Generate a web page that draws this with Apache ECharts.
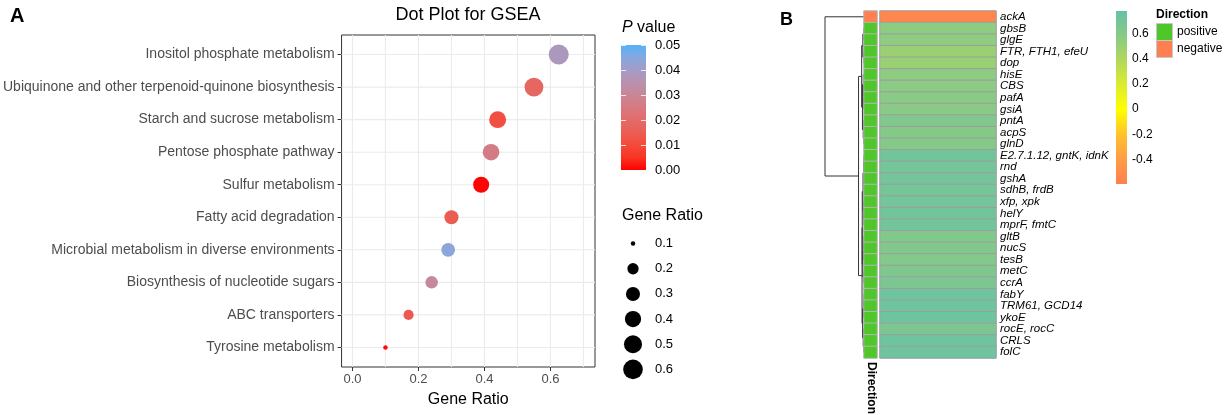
<!DOCTYPE html>
<html><head><meta charset="utf-8">
<script src="https://cdn.jsdelivr.net/npm/echarts@6/dist/echarts.min.js"></script>
<style>html,body{margin:0;padding:0;background:#fff}#c{width:1228px;height:415px}</style>
</head><body><div id="c"></div>
<script>
// ---------------- Panel A data ----------------
const pathways = [
  'Inositol phosphate metabolism',
  'Ubiquinone and other terpenoid-quinone biosynthesis',
  'Starch and sucrose metabolism',
  'Pentose phosphate pathway',
  'Sulfur metabolism',
  'Fatty acid degradation',
  'Microbial metabolism in diverse environments',
  'Biosynthesis of nucleotide sugars',
  'ABC transporters',
  'Tyrosine metabolism'
];
const geneRatio = [0.625, 0.55, 0.44, 0.42, 0.39, 0.30, 0.29, 0.24, 0.17, 0.10];
const pValue    = [0.038, 0.018, 0.011, 0.026, 0.0005, 0.015, 0.044, 0.031, 0.014, 0.001];
const xTicks = [0, 0.2, 0.4, 0.6];
const xGridLines = [0, 0.1, 0.2, 0.3, 0.4, 0.5, 0.6, 0.7];
const pTicks = [0, 0.01, 0.02, 0.03, 0.04, 0.05];
const sizeTicks = [0.1, 0.2, 0.3, 0.4, 0.5, 0.6];

// ---------------- Panel B data ----------------
const genes = ['ackA','gbsB','glgE','FTR, FTH1, efeU','dop','hisE','CBS','pafA','gsiA','pntA','acpS','glnD',
  'E2.7.1.12, gntK, idnK','rnd','gshA','sdhB, frdB','xfp, xpk','helY','mprF, fmtC','gltB','nucS','tesB',
  'metC','ccrA','fabY','TRM61, GCD14','ykoE','rocE, rocC','CRLS','folC'];
const corrValue = [-0.55,0.56,0.56,0.50,0.50,0.56,0.57,0.58,0.58,0.63,0.60,0.60,
  0.71,0.70,0.70,0.69,0.70,0.71,0.71,0.62,0.62,0.61,
  0.64,0.65,0.74,0.74,0.74,0.65,0.74,0.74];
const direction = ['negative'].concat(Array(29).fill('positive'));
const heatTicks = [-0.4, -0.2, 0, 0.2, 0.4, 0.6];
// hierarchical clustering (hclust style: negative = leaf row number, positive = earlier merge step)
const mergeLeft   = [-2,-4,1,-8,-7,-6,-11,-10,6,3,-13,-15,11,-18,-17,13,-20,17,-23,18,16,-25,22,-29,-28,23,21,10,-1];
const mergeRight  = [-3,-5,2,-9,4,5,-12,7,8,9,-14,-16,12,-19,14,15,-21,-22,-24,19,20,-26,-27,-30,24,25,26,27,28];
const mergeHeight = [0.004,0.004,0.03,0.004,0.01,0.02,0.005,0.02,0.04,0.06,0.005,0.006,0.012,0.004,0.008,0.025,
  0.004,0.008,0.005,0.03,0.045,0.003,0.006,0.004,0.02,0.035,0.05,0.14,1.0];

// ---------------- helpers ----------------
const FONT = '"Liberation Sans", Arial, Helvetica, sans-serif';
function hexToRgb(h){h=h.replace('#','');return [0,2,4].map(i=>parseInt(h.substr(i,2),16));}
function toLin(c){c/=255;return c<=0.04045?c/12.92:Math.pow((c+0.055)/1.055,2.4);}
function fromLin(c){c=Math.max(0,Math.min(1,c));c=c<=0.0031308?12.92*c:1.055*Math.pow(c,1/2.4)-0.055;return Math.round(Math.max(0,Math.min(1,c))*255);}
function rgbToLab(rgb){const [r,g,b]=rgb.map(toLin);
  const x=(r*0.4124+g*0.3576+b*0.1805)/0.95047, y=(r*0.2126+g*0.7152+b*0.0722), z=(r*0.0193+g*0.1192+b*0.9505)/1.08883;
  const f=t=>t>0.008856?Math.cbrt(t):7.787*t+16/116;
  const fx=f(x),fy=f(y),fz=f(z);
  return [116*fy-16,500*(fx-fy),200*(fy-fz)];}
function labToHex(lab){const [L,a,bb]=lab;const fy=(L+16)/116,fx=fy+a/500,fz=fy-bb/200;
  const fi=t=>{const t3=t*t*t;return t3>0.008856?t3:(t-16/116)/7.787;};
  const x=fi(fx)*0.95047,y=fi(fy),z=fi(fz)*1.08883;
  const r=3.2406*x-1.5372*y-0.4986*z,g=-0.9689*x+1.8758*y+0.0415*z,b=0.0557*x-0.2040*y+1.0570*z;
  return '#'+[r,g,b].map(c=>fromLin(c).toString(16).padStart(2,'0')).join('');}
function labRamp(c0,c1,n){const A=rgbToLab(hexToRgb(c0)),B=rgbToLab(hexToRgb(c1));const out=[];
  for(let i=0;i<n;i++){const t=i/(n-1);out.push(labToHex(A.map((v,k)=>v+(B[k]-v)*t)));}return out;}

const pMin = 0, pMax = 0.05;
const pColors = labRamp('#ff0000', '#56b1f7', 11);
const heatMin = -0.595, heatMax = 0.778;
const heatColors = ['#ff7f50','#ff9c45','#ffc22c','#ffff00','#dcec2e','#b2d85c','#88ca86','#66c2a5'];
const dirColors = {positive:'#4fc72b', negative:'#ff7f50'};

const rMin = Math.min(...geneRatio), rMax = Math.max(...geneRatio);
function dotSize(v){ const t=Math.max(0,(v-rMin)/(rMax-rMin)); return 4.5 + 15.5*Math.sqrt(t); }
function gradStops(cols){ return cols.map((c,i)=>({offset:i/(cols.length-1), color:c})); }

// dendrogram segments from merges
function dendroSegments(){
  const nodes=[]; const segs=[];
  const get=id=> id<0 ? {y:-id-1, h:0} : nodes[id-1];
  for(let i=0;i<mergeLeft.length;i++){
    const L=get(mergeLeft[i]), R=get(mergeRight[i]), h=mergeHeight[i];
    segs.push([L.h,L.y,h,L.y]); segs.push([R.h,R.y,h,R.y]); segs.push([h,L.y,h,R.y]);
    nodes.push({y:(L.y+R.y)/2, h});
  }
  return segs;
}

const gridLineData = xGridLines.map(v=>['v',v]).concat(pathways.map((p,i)=>['h',i]));
const yLo = -0.6, yHi = pathways.length - 1 + 0.6;

const chart = echarts.init(document.getElementById('c'), null, {renderer:'canvas'});
const hidden = {show:false};
const noLine = {show:false, onZero:false};
const option = {
  animation:false,
  textStyle:{fontFamily:FONT},
  grid:[
    {left:341, top:35, width:254, height:332, show:true, borderColor:'#333', borderWidth:1, backgroundColor:'transparent'}, //0 dot plot
    {left:621, top:45, width:25, height:125}, //1 p colorbar
    {left:620, top:231, width:26, height:151}, //2 size legend
    {left:825, top:11, width:39, height:347}, //3 dendrogram
    {left:864, top:11, width:13, height:347}, //4 direction
    {left:880, top:11, width:116, height:347}, //5 heatmap
    {left:1116, top:11, width:11, height:173} //6 heat colorbar
  ],
  xAxis:[
    {gridIndex:0, type:'value', min:-0.033, max:0.735, splitLine:hidden, axisLine:noLine,
      axisTick:{customValues:xTicks, length:4, lineStyle:{color:'#333'}},
      axisLabel:{customValues:xTicks, formatter:v=>v.toFixed(1), color:'#4d4d4d', fontSize:13, margin:6, fontFamily:FONT},
      name:'Gene Ratio', nameLocation:'middle', nameGap:25, nameTextStyle:{fontSize:16, color:'#000', fontFamily:FONT}},
    {gridIndex:1, type:'value', min:0, max:1, show:false},
    {gridIndex:2, type:'value', min:0, max:1, show:false},
    {gridIndex:3, type:'value', min:0, max:1, inverse:true, show:false},
    {gridIndex:4, type:'category', data:['Direction'], show:false},
    {gridIndex:5, type:'category', data:['value'], show:false},
    {gridIndex:6, type:'value', min:0, max:1, show:false}
  ],
  yAxis:[
    {gridIndex:0, type:'value', min:yLo, max:yHi, inverse:true, splitLine:hidden, axisLine:noLine,
      axisTick:{customValues:pathways.map((p,i)=>i), length:4, lineStyle:{color:'#333'}},
      axisLabel:{customValues:pathways.map((p,i)=>i), formatter:v=>pathways[Math.round(v)], color:'#4d4d4d', fontSize:14, margin:7, fontFamily:FONT}},
    {gridIndex:1, type:'value', min:pMin, max:pMax, interval:0.01, position:'right', splitLine:hidden, axisLine:noLine, axisTick:hidden,
      axisLabel:{formatter:v=>v.toFixed(2), color:'#000', fontSize:13, margin:9, fontFamily:FONT}},
    {gridIndex:2, type:'category', data:sizeTicks.map(v=>v.toFixed(1)), inverse:true, position:'right', axisLine:noLine, axisTick:hidden,
      axisLabel:{color:'#000', fontSize:13, margin:9, fontFamily:FONT}},
    {gridIndex:3, type:'value', min:-0.5, max:genes.length-0.5, inverse:true, show:false},
    {gridIndex:4, type:'category', data:genes, inverse:true, show:false},
    {gridIndex:5, type:'category', data:genes, inverse:true, position:'right', axisLine:noLine, axisTick:hidden,
      axisLabel:{interval:0, color:'#000', fontSize:11.5, fontStyle:'italic', margin:4, fontFamily:FONT}},
    {gridIndex:6, type:'value', min:heatMin, max:heatMax, position:'right', splitLine:hidden, axisLine:noLine, axisTick:hidden,
      axisLabel:{customValues:heatTicks, formatter:v=>Math.abs(v)<1e-9?'0':v.toFixed(1), color:'#000', fontSize:12, margin:5, fontFamily:FONT}}
  ],
  visualMap:[
    {type:'continuous', show:false, seriesIndex:1, dimension:2, min:pMin, max:pMax, inRange:{color:pColors}},
    {type:'piecewise', show:false, seriesIndex:5, dimension:2, pieces:[{value:1, color:dirColors.positive},{value:0, color:dirColors.negative}]},
    {type:'continuous', show:false, seriesIndex:6, dimension:2, min:heatMin, max:heatMax, inRange:{color:heatColors}}
  ],
  series:[
    {type:'custom', xAxisIndex:0, yAxisIndex:0, silent:true, data:gridLineData,
      renderItem:(params, api)=>{
        const d = gridLineData[params.dataIndex];
        let a,b;
        if(d[0]==='v'){ a=api.coord([d[1], yLo]); b=api.coord([d[1], yHi]); }
        else { a=api.coord([-0.033, d[1]]); b=api.coord([0.735, d[1]]); }
        return {type:'line', shape:{x1:a[0],y1:a[1],x2:b[0],y2:b[1]}, style:{stroke:'#ebebeb', lineWidth:1.1}};
      }},
    {type:'scatter', xAxisIndex:0, yAxisIndex:0, silent:true,
      data:pathways.map((p,i)=>[geneRatio[i], i, pValue[i]]),
      symbolSize:v=>dotSize(v[0]), itemStyle:{opacity:1}},
    {type:'custom', xAxisIndex:1, yAxisIndex:1, silent:true, data:[[0,0]],
      renderItem:(params, api)=>{
        const p0=api.coord([0,pMin]), p1=api.coord([1,pMax]);
        const x=p0[0], y=p1[1], w=p1[0]-p0[0], h=p0[1]-p1[1];
        const ch=[{type:'rect', shape:{x,y,width:w,height:h}, style:{fill:{type:'linear',x:0,y:1,x2:0,y2:0,colorStops:gradStops(pColors)}}}];
        pTicks.forEach(v=>{ const yy=Math.round(api.coord([0,v])[1])+0.5;
          ch.push({type:'line', shape:{x1:x,y1:yy,x2:x+5,y2:yy}, style:{stroke:'#fff', lineWidth:1, opacity:0.8}});
          ch.push({type:'line', shape:{x1:x+w-5,y1:yy,x2:x+w,y2:yy}, style:{stroke:'#fff', lineWidth:1, opacity:0.8}}); });
        return {type:'group', children:ch};
      }},
    {type:'scatter', xAxisIndex:2, yAxisIndex:2, silent:true,
      data:sizeTicks.map((v,i)=>[0.5, i, v]), symbolSize:v=>dotSize(v[2]), itemStyle:{color:'#000', opacity:1}},
    {type:'custom', xAxisIndex:3, yAxisIndex:3, silent:true, data:dendroSegments(),
      renderItem:(params, api)=>{
        const a=api.coord([api.value(0), api.value(1)]), b=api.coord([api.value(2), api.value(3)]);
        return {type:'line', shape:{x1:a[0],y1:a[1],x2:b[0],y2:b[1]}, style:{stroke:'#333', lineWidth:1}};
      }},
    {type:'heatmap', xAxisIndex:4, yAxisIndex:4, silent:true,
      data:genes.map((g,i)=>[0, i, direction[i]==='positive'?1:0]),
      itemStyle:{borderColor:'#b5b5b5', borderWidth:1}},
    {type:'heatmap', xAxisIndex:5, yAxisIndex:5, silent:true,
      data:genes.map((g,i)=>[0, i, corrValue[i]]),
      itemStyle:{borderColor:'#9e9e9e', borderWidth:1}},
    {type:'custom', xAxisIndex:6, yAxisIndex:6, silent:true, data:[[0,0]],
      renderItem:(params, api)=>{
        const p0=api.coord([0,heatMin]), p1=api.coord([1,heatMax]);
        return {type:'rect', shape:{x:p0[0], y:p1[1], width:p1[0]-p0[0], height:p0[1]-p1[1]},
          style:{fill:{type:'linear',x:0,y:1,x2:0,y2:0,colorStops:gradStops(heatColors)}}};
      }}
  ],
  graphic:[
    {type:'text', x:10, y:16, style:{text:'A', font:'bold 20px '+FONT, fill:'#000', textVerticalAlign:'middle'}},
    {type:'text', x:468, y:15, style:{text:'Dot Plot for GSEA', font:'18px '+FONT, fill:'#000', textAlign:'center', textVerticalAlign:'middle'}},
    {type:'text', x:622, y:28, style:{text:'{i|P} value', font:'16px '+FONT, fill:'#000', textVerticalAlign:'middle',
      rich:{i:{fontStyle:'italic', fontSize:16, fontFamily:FONT, fill:'#000'}}}},
    {type:'text', x:622, y:216, style:{text:'Gene Ratio', font:'16px '+FONT, fill:'#000', textVerticalAlign:'middle'}},
    {type:'text', x:780, y:20, style:{text:'B', font:'bold 18px '+FONT, fill:'#000', textVerticalAlign:'middle'}},
    {type:'text', x:871, y:362, rotation:-Math.PI/2, style:{text:'Direction', font:'bold 12px '+FONT, fill:'#000', textAlign:'left', textVerticalAlign:'middle'}},
    {type:'text', x:1156, y:15, style:{text:'Direction', font:'bold 12px '+FONT, fill:'#000', textVerticalAlign:'middle'}},
    {type:'rect', shape:{x:1156.5, y:23.5, width:16, height:17}, style:{fill:dirColors.positive, stroke:'#c8c8c8', lineWidth:1}},
    {type:'rect', shape:{x:1156.5, y:40.5, width:16, height:17}, style:{fill:dirColors.negative, stroke:'#c8c8c8', lineWidth:1}},
    {type:'text', x:1177, y:32, style:{text:'positive', font:'12px '+FONT, fill:'#000', textVerticalAlign:'middle'}},
    {type:'text', x:1177, y:49, style:{text:'negative', font:'12px '+FONT, fill:'#000', textVerticalAlign:'middle'}}
  ]
};
chart.setOption(option);
</script>
</body></html>
